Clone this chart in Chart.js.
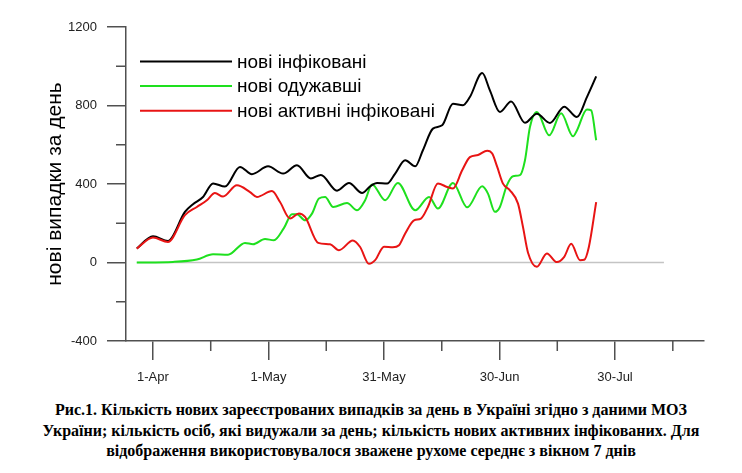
<!DOCTYPE html>
<html>
<head>
<meta charset="utf-8">
<script src="https://cdn.jsdelivr.net/npm/chart.js@4"></script>
<style>
  body { margin: 0; background: #fff; }
  #wrap { position: relative; width: 742px; height: 392px; }
  #caption {
    position: absolute; left: 0; top: 400px; width: 742px;
    text-align: center; font-family: 'Liberation Serif', serif;
    font-weight: bold; font-size: 16px; line-height: 20.5px; color: #000;
  }
</style>
</head>
<body>
<div id="wrap"><canvas id="covidChart"></canvas></div>
<div id="caption">Рис.1. Кількість нових зареєстрованих випадків за день в Україні згідно з даними МОЗ<br>України; кількість осіб, які видужали за день; кількість нових активних інфікованих. Для<br>відображення використовувалося зважене рухоме середнє з вікном 7 днів</div>
<script>
// дні від 1 квітня
const xTicks = [0, 15, 30, 45, 60, 75, 90, 105, 120, 135];
const xLabels = { 0: '1-Apr', 30: '1-May', 60: '31-May', 90: '30-Jun', 120: '30-Jul' };
const yTicks = [-400, -200, 0, 200, 400, 600, 800, 1000, 1200];

// нові інфіковані
const infectedDays = [-4.2, 0, 3.9, 8.3, 10.4, 13.0, 15.6, 18.7, 22.6, 25.7, 29.9, 33.8, 37.4, 41.0, 43.6, 47.8, 50.9, 54.3, 56.4, 58.2, 60.8, 62.9, 65.5, 68.1, 70.1, 72.7, 75.1, 77.9, 80.5, 82.3, 85.5, 87.5, 90.1, 93.0, 96.6, 99.7, 103.1, 106.8, 110.1, 112.7, 115.1];
const infectedVals = [71, 134, 110, 258, 297, 334, 403, 387, 487, 450, 490, 453, 495, 428, 446, 366, 405, 354, 388, 405, 402, 453, 521, 490, 572, 682, 699, 809, 801, 843, 965, 877, 767, 820, 712, 758, 711, 794, 741, 843, 948];

// нові одужавші
const recoveredDays = [-4.2, 5.2, 11.4, 15.6, 19.5, 23.9, 26.0, 29.1, 31.4, 34.0, 36.1, 37.4, 39.5, 41.3, 43.1, 44.7, 46.8, 50.4, 53.0, 55.1, 56.9, 60.3, 63.6, 68.1, 71.7, 74.0, 77.9, 81.6, 85.5, 87.0, 88.8, 90.1, 91.9, 93.5, 95.3, 96.6, 97.9, 99.7, 102.9, 106.0, 109.1, 110.1, 112.7, 113.8, 115.1];
const recoveredVals = [0, 3, 15, 42, 40, 100, 93, 120, 113, 175, 246, 246, 215, 249, 326, 334, 283, 303, 266, 317, 398, 317, 405, 266, 334, 275, 405, 281, 388, 351, 258, 283, 393, 440, 445, 520, 690, 767, 648, 760, 643, 673, 780, 775, 623];

// нові активні інфіковані
const activeDays = [-4.2, 0, 3.9, 8.3, 11.4, 14.0, 16.1, 18.2, 21.8, 25.2, 27.0, 30.9, 33.0, 35.6, 37.9, 39.5, 42.9, 46.0, 48.3, 51.9, 53.8, 56.1, 57.7, 60.0, 62.3, 63.9, 65.5, 67.8, 69.6, 71.4, 74.0, 76.4, 77.9, 80.3, 82.3, 84.4, 86.8, 88.1, 89.4, 90.9, 92.7, 94.8, 96.1, 97.4, 99.7, 102.3, 104.9, 106.8, 108.6, 110.9, 112.0, 113.2, 115.1];
const activeVals = [71, 127, 105, 241, 283, 317, 354, 336, 393, 359, 334, 364, 308, 224, 250, 232, 100, 93, 63, 112, 79, -7, 12, 80, 78, 88, 148, 215, 224, 283, 402, 385, 377, 470, 537, 548, 570, 555, 487, 402, 368, 300, 180, 50, -22, 46, 2, 29, 95, 12, 14, 79, 308];

const zeroDays = [-4.2, 132.7];
const zeroVals = [0, 0];

const pts = (xs, ys) => xs.map((x, i) => ({ x: x, y: ys[i] }));

// мітки осей (малі) + легенда всередині графіка
const extras = {
    id: 'extras',
    afterDraw(chart) {
        const ctx = chart.ctx, a = chart.chartArea;
        const xs = chart.scales.x, ys = chart.scales.y;
        ctx.save();
        ctx.strokeStyle = '#505050';
        ctx.lineWidth = 1.5;
        ctx.beginPath();
        yTicks.filter(v => v % 400 !== 0).forEach(v => {
            const py = ys.getPixelForValue(v);
            ctx.moveTo(a.left - 10, py); ctx.lineTo(a.left, py);
        });
        xTicks.filter(v => !(v in xLabels)).forEach(v => {
            const px = xs.getPixelForValue(v);
            ctx.moveTo(px, a.bottom); ctx.lineTo(px, a.bottom + 10);
        });
        ctx.stroke();

        ctx.font = '19px "Liberation Sans", Arial, sans-serif';
        ctx.textBaseline = 'middle';
        ctx.fillStyle = '#000';
        let row = 0;
        chart.data.datasets.forEach(ds => {
            if (!ds.inLegend) return;
            const y = 61.5 + row * 24.6;
            ctx.strokeStyle = ds.borderColor;
            ctx.lineWidth = 2;
            ctx.beginPath(); ctx.moveTo(140, y); ctx.lineTo(232, y); ctx.stroke();
            ctx.fillText(ds.label, 237, y + 1);
            row++;
        });
        ctx.restore();
    }
};

new Chart(document.getElementById('covidChart'), {
    type: 'line',
    data: {
        datasets: [{
            label: 'нові інфіковані',
            data: pts(infectedDays, infectedVals),
            borderColor: '#000000',
            inLegend: true,
            order: 1
        }, {
            label: 'нові одужавші',
            data: pts(recoveredDays, recoveredVals),
            borderColor: '#1ee01e',
            inLegend: true,
            order: 2
        }, {
            label: 'нові активні інфіковані',
            data: pts(activeDays, activeVals),
            borderColor: '#e81414',
            inLegend: true,
            order: 0
        }, {
            label: 'zero',
            data: pts(zeroDays, zeroVals),
            borderColor: '#c4c4c4',
            borderWidth: 1.5,
            inLegend: false,
            order: 3
        }]
    },
    options: {
        responsive: true,
        maintainAspectRatio: false,
        animation: false,
        layout: { padding: { left: 0, top: 27, right: 38, bottom: 0 } },
        elements: {
            point: { radius: 0 },
            line: { borderWidth: 2, cubicInterpolationMode: 'monotone', fill: false }
        },
        plugins: { legend: { display: false }, tooltip: { enabled: false } },
        scales: {
            x: {
                type: 'linear',
                min: -7, max: 143.1,
                afterBuildTicks: s => { s.ticks = xTicks.map(v => ({ value: v })); },
                afterFit: s => { s.height = 51; },
                grid: {
                    drawOnChartArea: false, tickLength: 19, lineWidth: 1.5,
                    tickColor: c => (c.tick && c.tick.value in xLabels) ? '#505050' : 'rgba(0,0,0,0)'
                },
                border: { color: '#505050', width: 1.5 },
                ticks: {
                    autoSkip: false, maxRotation: 0, padding: 10, color: '#222',
                    font: { family: 'Liberation Sans', size: 13 },
                    callback: v => xLabels[v] || ''
                }
            },
            y: {
                min: -400, max: 1200,
                afterBuildTicks: s => { s.ticks = yTicks.map(v => ({ value: v })); },
                afterFit: s => { s.width = 126; },
                grid: {
                    drawOnChartArea: false, tickLength: 19, lineWidth: 1.5,
                    tickColor: c => (c.tick && c.tick.value % 400 === 0) ? '#505050' : 'rgba(0,0,0,0)'
                },
                border: { color: '#505050', width: 1.5 },
                ticks: {
                    padding: 10, color: '#222',
                    font: { family: 'Liberation Sans', size: 13 },
                    callback: v => v % 400 === 0 ? String(v) : ''
                },
                title: {
                    display: true, text: 'нові випадки за день', color: '#000',
                    font: { family: 'Liberation Sans', size: 21 },
                    padding: { top: 43, bottom: 0 }
                }
            }
        }
    },
    plugins: [extras]
});
</script>
</body>
</html>
